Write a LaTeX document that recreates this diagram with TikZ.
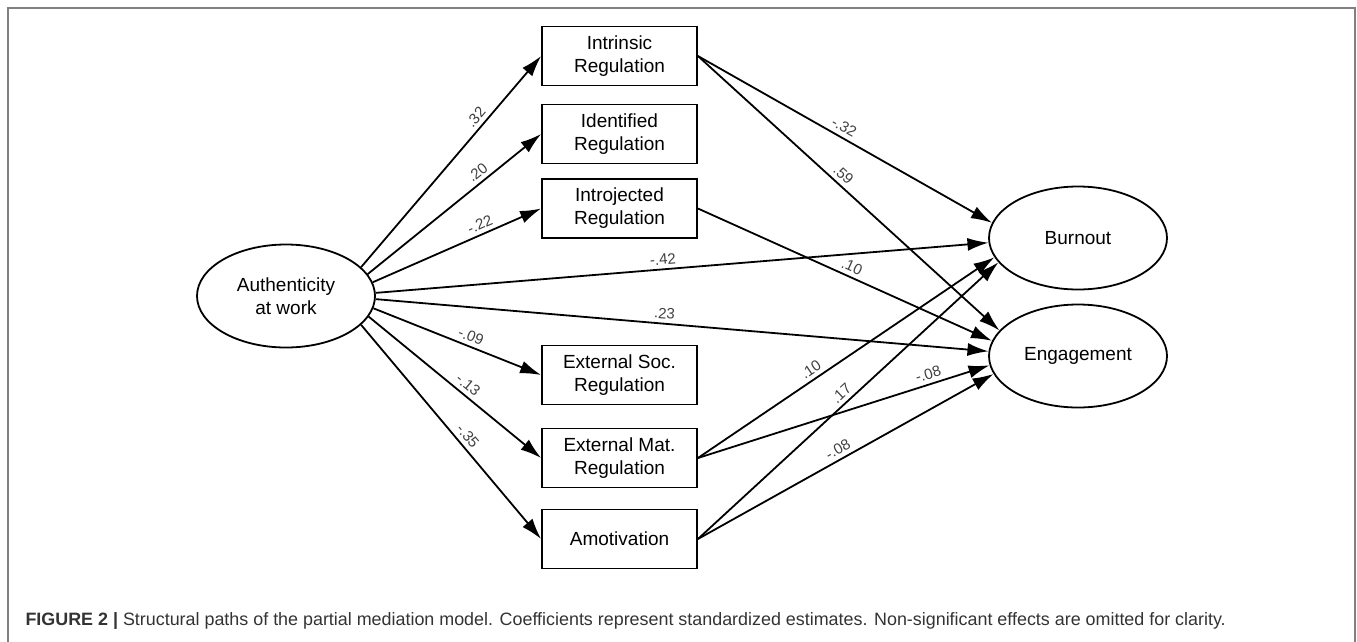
\documentclass[tikz,border=0pt]{standalone}
\usepackage{fontspec}
\setmainfont{Liberation Sans}
\usetikzlibrary{arrows.meta,shapes.geometric}

\begin{document}
\begin{tikzpicture}[x=1pt,y=-1pt,
  box/.style={rectangle,draw,line width=1.8pt,minimum width=155pt,minimum height=59pt,inner sep=0pt,align=center,font=\fontsize{19}{23}\selectfont},
  latent/.style={ellipse,draw,line width=1.8pt,minimum width=178pt,minimum height=103pt,inner sep=0pt,align=center,font=\fontsize{19}{23}\selectfont},
  arr/.style={-{Latex[length=21pt,width=13pt]},line width=1.8pt},
  coef/.style={pos=#1,sloped,inner sep=1pt,above=3pt,font=\fontsize{15}{15}\selectfont,text=black!75}]
\useasboundingbox (0,0) rectangle (1357,641);
\draw[black!50,line width=1.2pt] (8,645) -- (8,8) -- (1355,8) -- (1355,645);

\node (a) at (286,296) [latent] {Authenticity\\at work};

\node (m1) at (619.5,56) [box] {Intrinsic\\Regulation};
\node (m2) at (619.5,134) [box] {Identified\\Regulation};
\node (m3) at (619.5,208.5) [box] {Introjected\\Regulation};
\node (m4) at (619.5,375) [box] {External Soc.\\Regulation};
\node (m5) at (619.5,458) [box] {External Mat.\\Regulation};
\node (m6) at (619.5,539) [box] {Amotivation};

\node (b) at (1078,238) [latent] {Burnout};
\node (e) at (1078,356) [latent] {Engagement};

% authenticity to the mediators
\draw[arr] (a.21) -- (m1.west) node[coef=0.68] {.32};
\draw[arr] (a.15) -- (m2.west) node[coef=0.67] {.20};
\draw[arr] (a.9) -- (m3.west) node[coef=0.66] {-.22};
\draw[arr] (a.-8) -- (m4.west) node[coef=0.56] {-.09};
\draw[arr] (a.-14) -- (m5.west) node[coef=0.54] {-.13};
\draw[arr] (a.-21) -- (m6.west) node[coef=0.55] {-.35};

% direct paths
\draw[arr] (a.2) -- (b.183) node[coef=0.47] {-.42};
\draw[arr] (a.-2) -- (e.177) node[coef=0.47] {.23};

% mediators to the outcomes
\draw[arr] (m1.east) -- (b.170) node[coef=0.48] {-.32};
\draw[arr] (m1.east) -- (e.162) node[coef=0.46] {.59};
\draw[arr] (m3.east) -- (e.170) node[coef=0.51] {.10};
\draw[arr] (m5.east) -- (b.193) node[coef=0.40] {.10};
\draw[arr] (m6.east) -- (b.197) node[coef=0.50] {.17};
\draw[arr] (m5.east) -- (e.186) node[coef=0.80] {-.08};
\draw[arr] (m6.east) -- (e.192) node[coef=0.49] {-.08};

\node (cap) at (22,621) [anchor=west,font=\fontsize{17.9}{20}\selectfont,text=black!80] {\textbf{FIGURE 2 |} Structural paths of the partial mediation model. Coefficients represent standardized estimates. Non-significant effects are omitted for clarity.};
\end{tikzpicture}
\end{document}
